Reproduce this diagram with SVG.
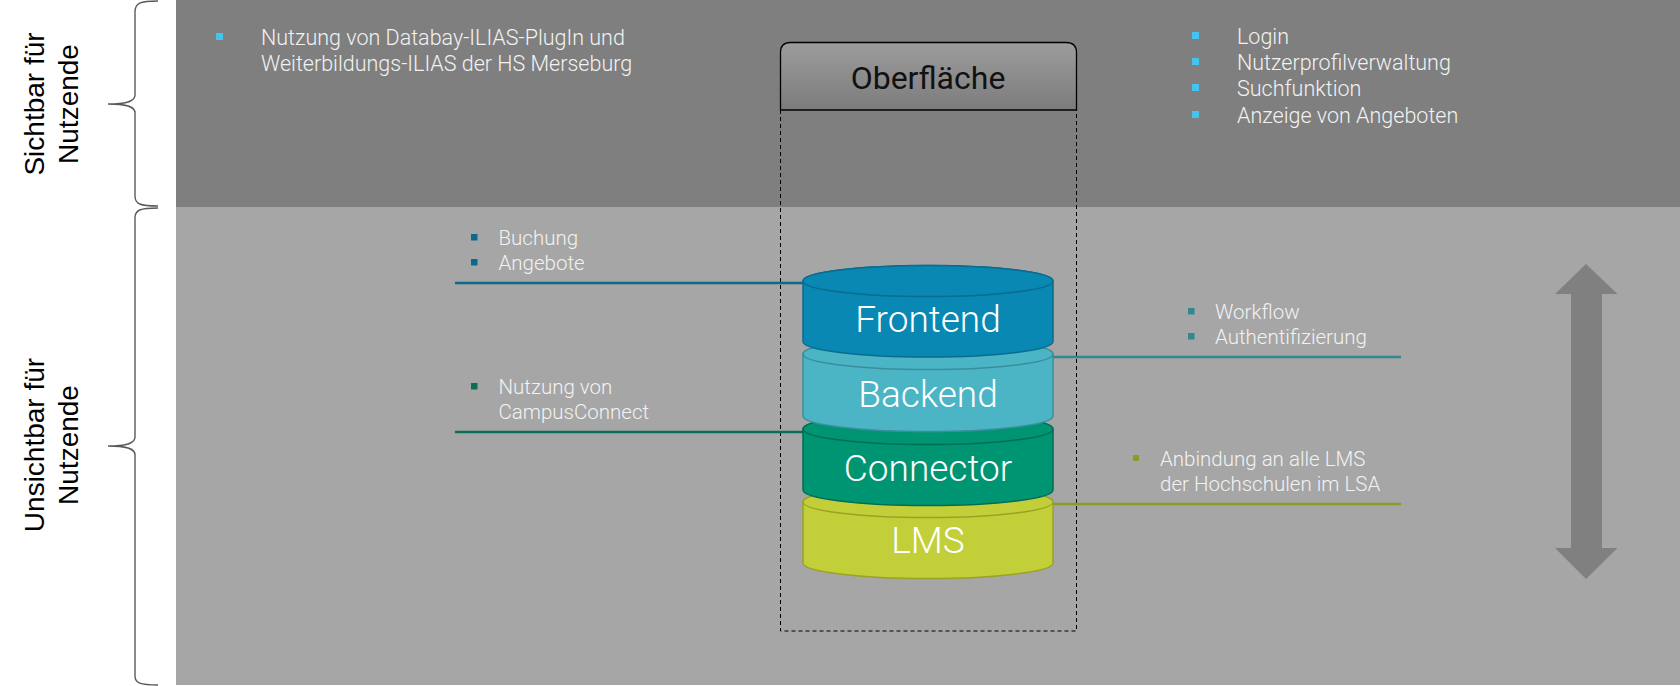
<svg xmlns="http://www.w3.org/2000/svg" width="1680" height="686" viewBox="0 0 1680 686">
  <style>
    .side { font-family: "Liberation Sans", Arial, sans-serif; font-size: 28px; fill: #000; text-anchor: middle; }
    .lbl { font-family: Roboto, "Noto Sans", sans-serif; font-weight: 300; fill: #f2f2f2; }
    .top { font-size: 21.5px; }
    .mid { font-size: 20.5px; }
    .cyl { font-family: Roboto, "Noto Sans", sans-serif; font-weight: 300; font-size: 37px; fill: #ffffff; text-anchor: middle; }
    .brace { fill: none; stroke: #5a5a5a; stroke-width: 1.4; }
    .conn { fill: none; stroke-width: 2.5; }
  </style>
  <defs>
    <linearGradient id="hdr" x1="0" y1="0" x2="0" y2="1">
      <stop offset="0" stop-color="#9c9c9c"/>
      <stop offset="1" stop-color="#7c7c7c"/>
    </linearGradient>
  </defs>

  <rect x="0" y="0" width="1680" height="686" fill="#ffffff"/>
  <rect x="176" y="0" width="1504" height="207" fill="#7f7f7f"/>
  <rect x="176" y="207" width="1504" height="478" fill="#a6a6a6"/>

  <g id="side-labels">
    <path class="brace" d="M158,1 C140,1 135,3 135,12 L135,95 C135,101 128,104 108,104 C128,104 135,107 135,113 L135,196 C135,204 140,206 158,206"/>
    <path class="brace" d="M158,208 C140,208 135,210 135,218 L135,437 C135,443 128,446 108,446 C128,446 135,449 135,455 L135,676 C135,683 140,685 158,685"/>
    <g transform="translate(44,104) rotate(-90)"><text class="side" x="0" y="0">Sichtbar für</text></g>
    <g transform="translate(78,104) rotate(-90)"><text class="side" x="0" y="0">Nutzende</text></g>
    <g transform="translate(44,445) rotate(-90)"><text class="side" x="0" y="0">Unsichtbar für</text></g>
    <g transform="translate(78,445) rotate(-90)"><text class="side" x="0" y="0">Nutzende</text></g>
  </g>

  <g id="note-ilias">
    <rect x="216" y="33" width="7" height="7" fill="#45c3ef"/>
    <text class="lbl top" x="261" y="45">Nutzung von Databay-ILIAS-PlugIn und</text>
    <text class="lbl top" x="261" y="70.5">Weiterbildungs-ILIAS der HS Merseburg</text>
  </g>

  <g id="note-features">
    <rect x="1192" y="32" width="7" height="7" fill="#45c3ef"/>
    <rect x="1192" y="58" width="7" height="7" fill="#45c3ef"/>
    <rect x="1192" y="84" width="7" height="7" fill="#45c3ef"/>
    <rect x="1192" y="111" width="7" height="7" fill="#45c3ef"/>
    <text class="lbl top" x="1237" y="44">Login</text>
    <text class="lbl top" x="1237" y="70">Nutzerprofilverwaltung</text>
    <text class="lbl top" x="1237" y="96">Suchfunktion</text>
    <text class="lbl top" x="1237" y="122.5">Anzeige von Angeboten</text>
  </g>

  <g id="oberflaeche">
    <path d="M780.5,110 V52.5 Q780.5,42.5 790.5,42.5 H1066 Q1076.5,42.5 1076.5,52.5 V110 Z" fill="url(#hdr)" stroke="#000" stroke-width="1.3"/>
    <text x="928" y="89" font-family="Roboto, 'Noto Sans', sans-serif" font-size="32" fill="#111" text-anchor="middle">Oberfläche</text>
    <path d="M780.5,110 V631 H1076.5 V110" fill="none" stroke="#000" stroke-width="1" stroke-dasharray="4 3"/>
  </g>

  <g id="connectors">
    <line class="conn" x1="455" y1="283" x2="806" y2="283" stroke="#0d6a8a"/>
    <line class="conn" x1="1050" y1="357" x2="1401" y2="357" stroke="#34878f"/>
    <line class="conn" x1="455" y1="432" x2="806" y2="432" stroke="#0b6e57"/>
    <line class="conn" x1="1050" y1="504" x2="1401" y2="504" stroke="#8c9a2a"/>
  </g>

  <g id="lms">
    <path d="M803,502 V563 A125,15.5 0 0 0 1053,563 V502 A125,15.5 0 0 0 803,502 Z" fill="#c2cf38" stroke="#98a326" stroke-width="1.5"/>
    <ellipse cx="928" cy="502" rx="125" ry="15.5" fill="#c2cf38" stroke="#98a326" stroke-width="1.5"/>
    <text class="cyl" x="928" y="553">LMS</text>
  </g>

  <g id="connector">
    <path d="M803,429 V490 A125,15.5 0 0 0 1053,490 V429 A125,15.5 0 0 0 803,429 Z" fill="#009572" stroke="#006e55" stroke-width="1.5"/>
    <ellipse cx="928" cy="429" rx="125" ry="15.5" fill="#009572" stroke="#006e55" stroke-width="1.5"/>
    <text class="cyl" x="928" y="480.5">Connector</text>
  </g>

  <g id="backend">
    <path d="M803,354 V416 A125,15.5 0 0 0 1053,416 V354 A125,15.5 0 0 0 803,354 Z" fill="#4bb5c5" stroke="#3a8e9c" stroke-width="1.5"/>
    <ellipse cx="928" cy="354" rx="125" ry="15.5" fill="#4bb5c5" stroke="#3a8e9c" stroke-width="1.5"/>
    <text class="cyl" x="928" y="406.5">Backend</text>
  </g>

  <g id="frontend">
    <path d="M803,281 V341.5 A125,15.5 0 0 0 1053,341.5 V281 A125,15.5 0 0 0 803,281 Z" fill="#0888b3" stroke="#0a6c8e" stroke-width="1.5"/>
    <ellipse cx="928" cy="281" rx="125" ry="15.5" fill="#0888b3" stroke="#0a6c8e" stroke-width="1.5"/>
    <text class="cyl" x="928" y="332">Frontend</text>
  </g>

  <g id="note-frontend">
    <rect x="471" y="234" width="6.5" height="6.5" fill="#0b6a8c"/>
    <rect x="471" y="259" width="6.5" height="6.5" fill="#0b6a8c"/>
    <text class="lbl mid" x="498.5" y="245">Buchung</text>
    <text class="lbl mid" x="498.5" y="270">Angebote</text>
  </g>

  <g id="note-connector">
    <rect x="471" y="383" width="6.5" height="6.5" fill="#0a6f55"/>
    <text class="lbl mid" x="498.5" y="394">Nutzung von</text>
    <text class="lbl mid" x="498.5" y="419">CampusConnect</text>
  </g>

  <g id="note-backend">
    <rect x="1188" y="308" width="6.5" height="6.5" fill="#33878f"/>
    <rect x="1188" y="333" width="6.5" height="6.5" fill="#33878f"/>
    <text class="lbl mid" x="1215" y="319">Workflow</text>
    <text class="lbl mid" x="1215" y="344">Authentifizierung</text>
  </g>

  <g id="note-lms">
    <rect x="1133" y="455" width="6" height="6" fill="#8c9a2a"/>
    <text class="lbl mid" x="1160" y="465.5">Anbindung an alle LMS</text>
    <text class="lbl mid" x="1160" y="490.5">der Hochschulen im LSA</text>
  </g>

  <g id="double-arrow">
    <polygon points="1586,264 1617.5,294 1602,294 1602,548 1617.5,548 1586,579 1555,548 1571,548 1571,294 1555,294" fill="#808080"/>
  </g>
</svg>
